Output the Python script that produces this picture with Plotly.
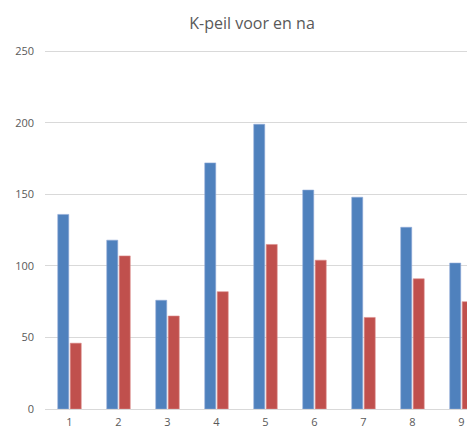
import plotly.graph_objects as go

metingen = [1, 2, 3, 4, 5, 6, 7, 8, 9]
k_voor = [136, 118, 76, 172, 199, 153, 148, 127, 102]
k_na = [46, 107, 65, 82, 115, 104, 64, 91, 75]
y_ticks = [0, 50, 100, 150, 200, 250]

fig = go.Figure()
fig.add_trace(go.Bar(x=metingen, y=k_voor, name="voor",
                     marker={"color": "#4F81BD", "line": {"color": "#8EAAD6", "width": 0.6}}))
fig.add_trace(go.Bar(x=metingen, y=k_na, name="na",
                     marker={"color": "#C0504D", "line": {"color": "#DB8C8A", "width": 0.6}}))

# the page has an 8px body margin, so the figure is shifted by 8px
fig.update_layout(
    width=467,
    height=422,
    barmode="group",
    bargap=0.49,
    bargroupgap=0.12,
    showlegend=False,
    plot_bgcolor="white",
    paper_bgcolor="white",
    font={"family": "Open Sans, Liberation Sans, sans-serif", "color": "#595959", "size": 11},
    margin={"l": 37, "r": 0, "t": 39, "b": 21},
    title={
        "text": "K-peil voor en na",
        "x": 244 / 467,
        "xanchor": "center",
        "y": 1 - 15 / 422,
        "yanchor": "middle",
        "font": {"size": 16, "color": "#595959"},
    },
    xaxis={
        "range": [0.5, 9.276],
        "tickvals": metingen,
        "showgrid": False,
        "showline": True,
        "linecolor": "#D9D9D9",
        "linewidth": 1,
        "ticks": "",
        "ticklabelstandoff": 3,
    },
    yaxis={
        "range": [0, 253],
        "tickvals": y_ticks,
        "showgrid": True,
        "gridcolor": "#D9D9D9",
        "gridwidth": 1,
        "zeroline": False,
        "ticks": "",
        "ticklabelstandoff": 10,
    },
)

fig.write_html("out.html")
